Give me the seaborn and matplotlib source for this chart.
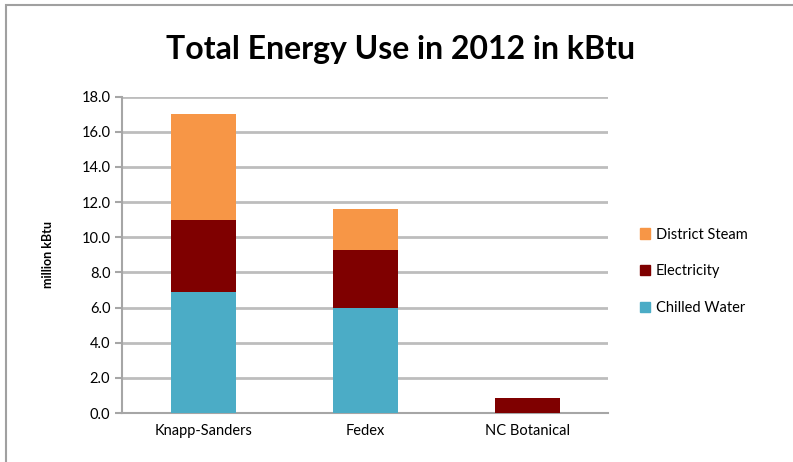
import numpy as np
import pandas as pd
import matplotlib.pyplot as plt
import seaborn as sns
from matplotlib.patches import Rectangle, Patch
from matplotlib.ticker import FormatStrFormatter

buildings = ['Knapp-Sanders', 'Fedex', 'NC Botanical']
chilled_water = [6.9, 6.0, 0.0]
electricity = [4.1, 3.3, 0.85]
district_steam = [6.0, 2.3, 0.0]

colors = {'District Steam': '#F79646', 'Electricity': '#7F0000', 'Chilled Water': '#4BACC6'}

df = pd.DataFrame({'building': buildings, 'Chilled Water': chilled_water,
                   'Electricity': electricity, 'District Steam': district_steam})
df['cum_elec'] = df['Chilled Water'] + df['Electricity']
df['cum_steam'] = df['cum_elec'] + df['District Steam']

sns.set_style('white')
plt.rcParams['font.family'] = ['Lato', 'DejaVu Sans']
plt.rcParams['text.color'] = 'black'
plt.rcParams['xtick.color'] = 'black'
plt.rcParams['ytick.color'] = 'black'
plt.rcParams['axes.labelcolor'] = 'black'

fig = plt.figure(figsize=(7.93, 4.62), dpi=100)
ax = fig.add_axes([0.154, 0.106, 0.613, 0.685])

# stacked via overlay of cumulative totals
for col in ['cum_steam', 'cum_elec', 'Chilled Water']:
    key = {'cum_steam': 'District Steam', 'cum_elec': 'Electricity'}.get(col, col)
    sns.barplot(data=df, x='building', y=col, color=colors[key], width=0.4,
                saturation=1, linewidth=0, ax=ax, zorder=3)

ax.set_ylim(0, 18)
ax.set_xlim(-0.5, 2.5)
ax.set_yticks(np.arange(0, 19, 2))
ax.yaxis.set_major_formatter(FormatStrFormatter('%.1f'))
ax.yaxis.grid(True, color='#BDBDBD', linewidth=2, zorder=0)
ax.set_axisbelow(True)
for s in ['top', 'right']:
    ax.spines[s].set_visible(False)
for s in ['left', 'bottom']:
    ax.spines[s].set_color('#A6A6A6')
    ax.spines[s].set_linewidth(1.5)

ax.set_xticks([0, 1, 2])
ax.set_xticklabels(buildings, fontsize=10.5)
ax.tick_params(axis='x', length=0, pad=8)
ax.set_xticks([-0.5, 0.5, 1.5, 2.5], minor=True)
ax.tick_params(axis='x', which='minor', length=5, color='#A6A6A6', width=1.5)
ax.tick_params(axis='y', length=5, color='#A6A6A6', labelcolor='black', width=1.5,
               labelsize=10.5, left=True)
ax.set_xlabel('')
ax.set_ylabel('million kBtu', fontsize=9, fontweight='bold', labelpad=20)

fig.suptitle('Total Energy Use in 2012 in kBtu', fontsize=23, fontweight='bold', x=0.505, y=0.925)

handles = [Patch(color=colors[k]) for k in ['District Steam', 'Electricity', 'Chilled Water']]
fig.legend(handles, ['District Steam', 'Electricity', 'Chilled Water'], loc='center left',
           bbox_to_anchor=(0.79, 0.413), frameon=False, fontsize=10.5,
           handlelength=0.7, handleheight=0.7, handletextpad=0.4, labelspacing=1.55)

fig.patches.append(Rectangle((0.007, -0.05), 1.1, 1.04, transform=fig.transFigure,
                             fill=False, edgecolor='#A0A0A0', linewidth=1.5))

fig.savefig('out.png', dpi=100)
